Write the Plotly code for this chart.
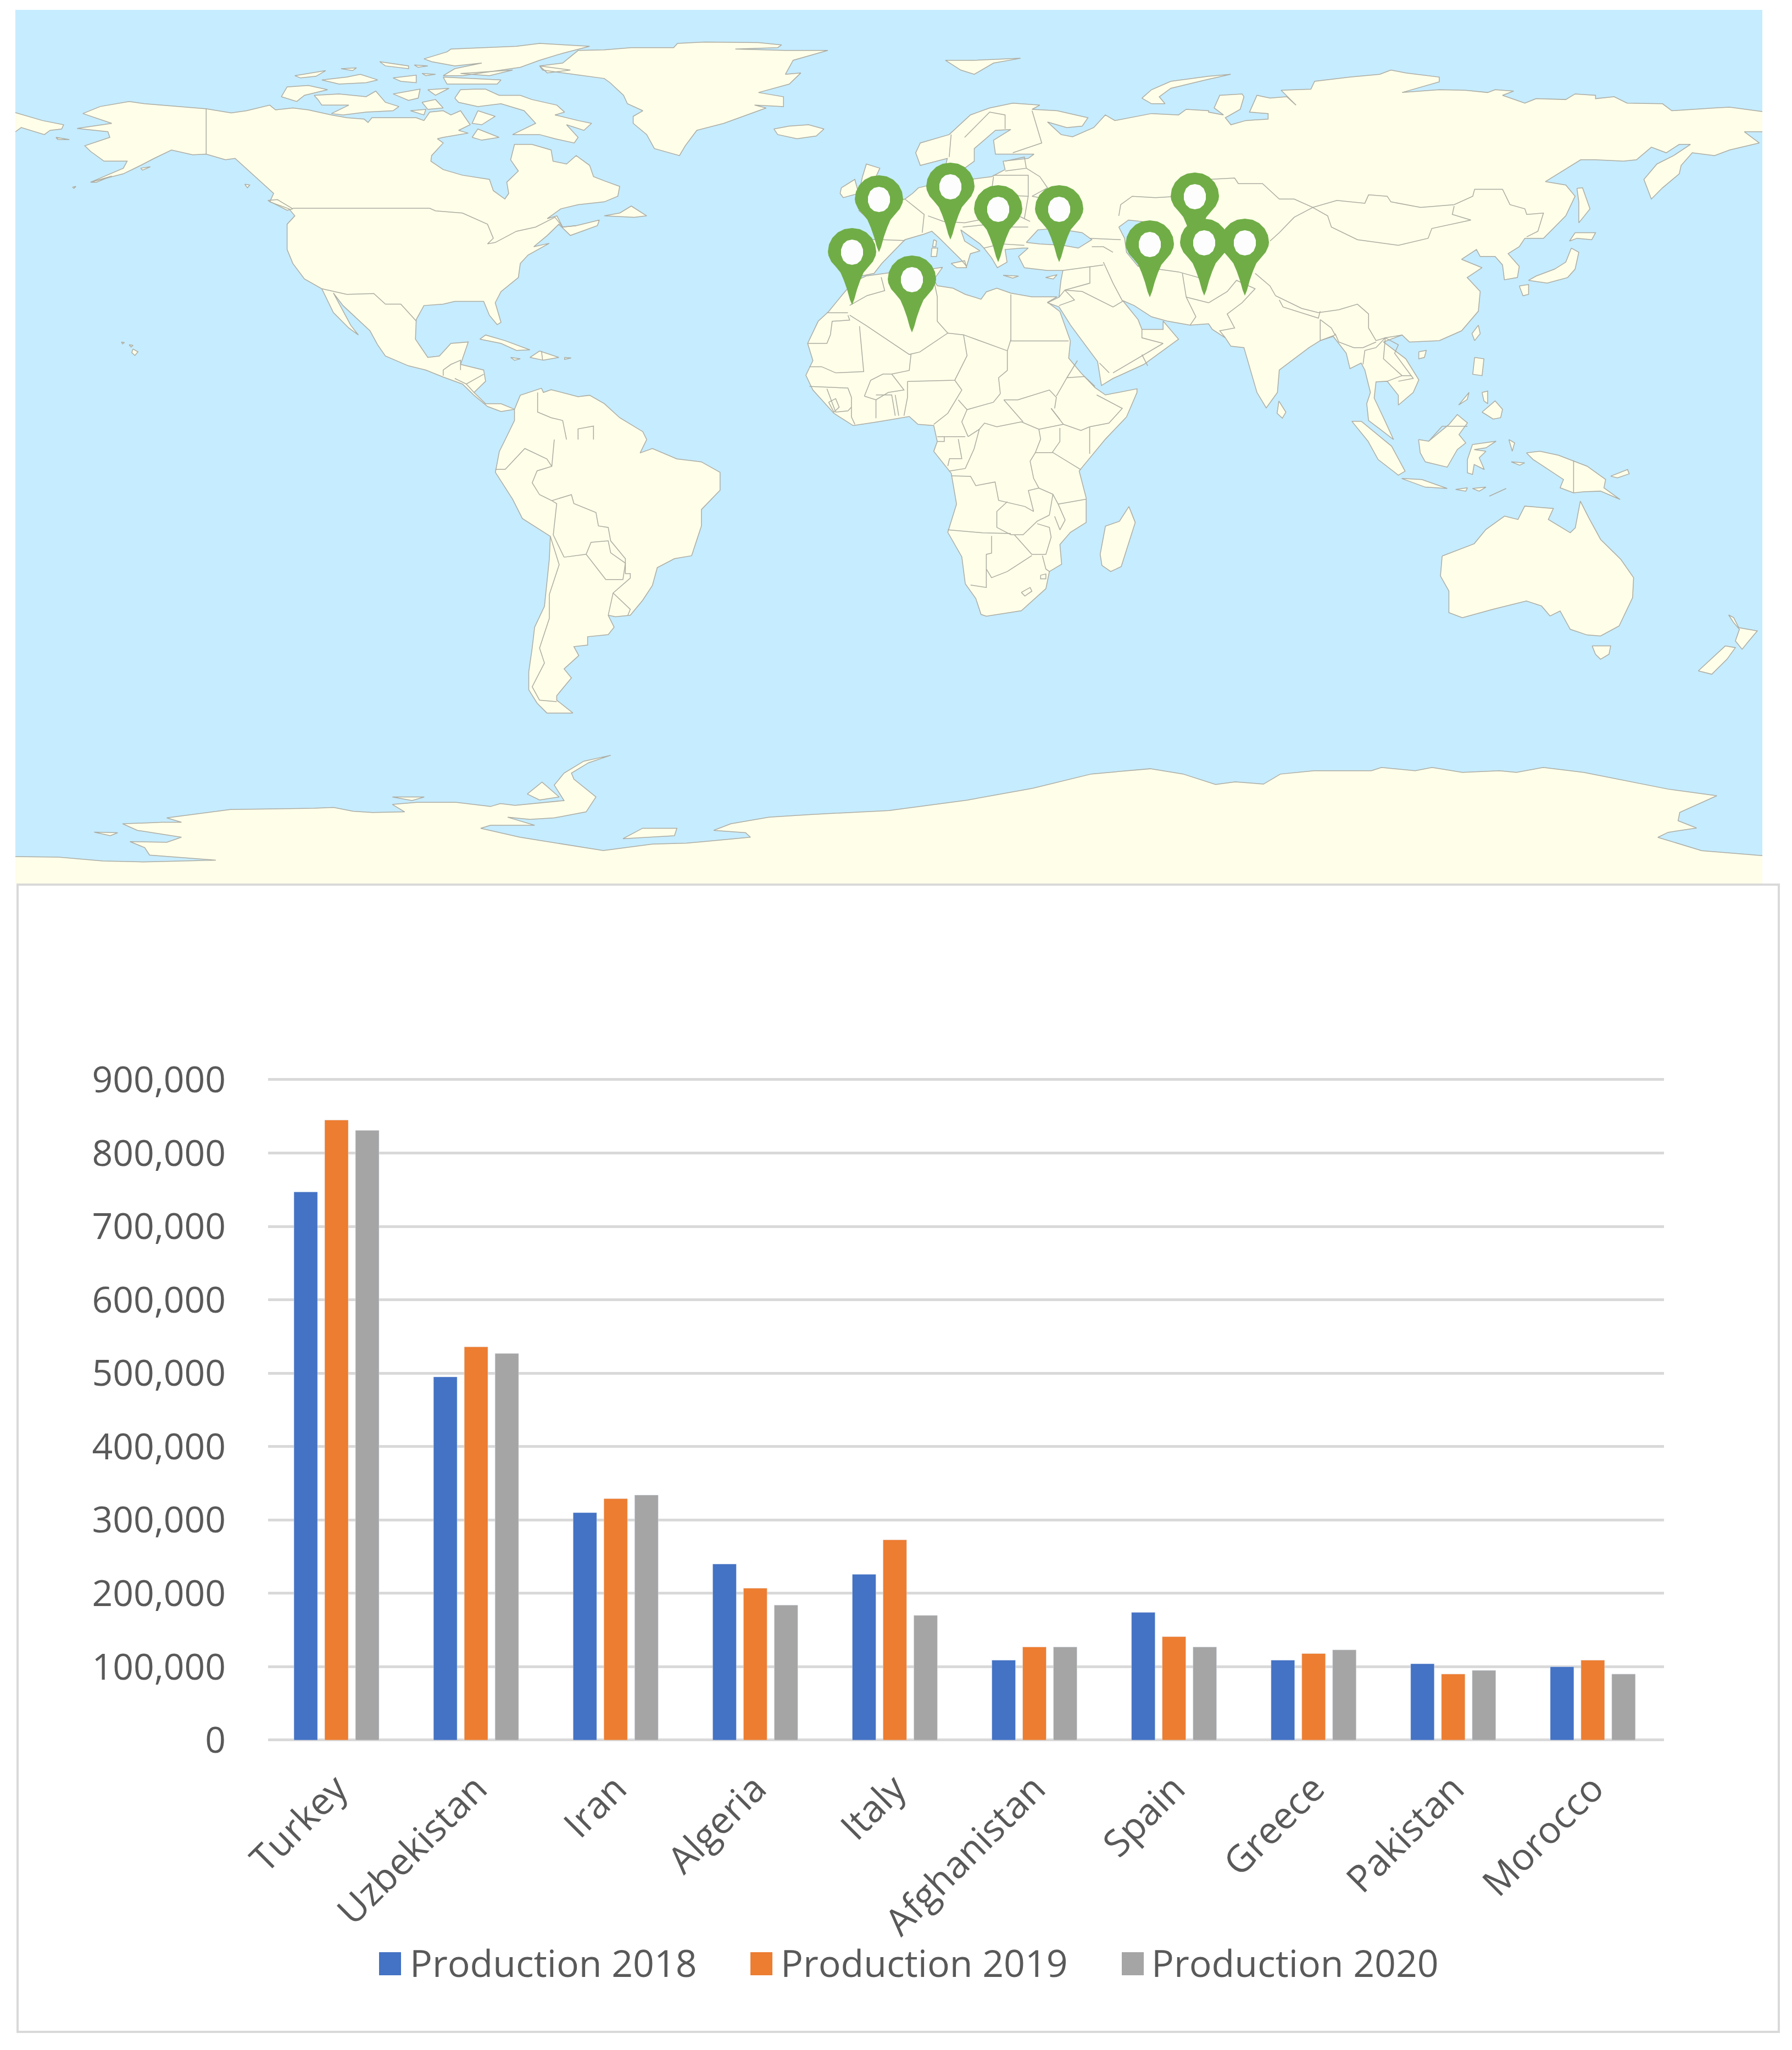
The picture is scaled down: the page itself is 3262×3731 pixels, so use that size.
import plotly.graph_objects as go

# Bar chart values
countries = ['Turkey', 'Uzbekistan', 'Iran', 'Algeria', 'Italy', 'Afghanistan', 'Spain', 'Greece', 'Pakistan', 'Morocco']
production_2018 = [747000, 495000, 310000, 240000, 226000, 109000, 174000, 109000, 104000, 100000]
production_2019 = [845000, 536000, 329000, 207000, 273000, 127000, 141000, 118000, 90000, 109000]
production_2020 = [831000, 527000, 334000, 184000, 170000, 127000, 127000, 123000, 95000, 90000]
y_ticks = [0, 100000, 200000, 300000, 400000, 500000, 600000, 700000, 800000, 900000]
series_names = ['Production 2018', 'Production 2019', 'Production 2020']
series_colors = ['#4472C4', '#ED7D31', '#A5A5A5']

# Pin tips on the map, in picture pixels
pin_countries = ['Spain', 'Morocco', 'Algeria', 'Italy', 'Greece', 'Turkey', 'Iran', 'Uzbekistan', 'Afghanistan', 'Pakistan']
pin_x = [1600, 1551, 1660, 1730, 1817, 1928, 2093, 2175, 2192, 2266]
pin_y = [459, 555, 605, 436, 477, 477, 541, 454, 538, 538]

# Coastlines. Each list is in the pixels of one crop, see crop() below.
alaska_to_panama = [(535,388),(600,403),(640,395),(700,375),(715,392),(760,385),(800,392),(860,410),(900,420),(945,425),(955,437),(965,420),(1020,420),(1080,420),(1100,430),(1115,400),(1150,395),(1170,410),(1195,395),(1210,425),(1220,445),(1190,465),(1215,475),(1150,490),(1135,495),(1150,510),(1120,555),(1118,575),(1150,605),(1200,625),(1270,640),(1280,680),(1310,710),(1320,690),(1315,650),(1345,610),(1325,570),(1335,515),(1380,515),(1430,535),(1435,575),(1470,585),(1495,555),(1530,590),(1540,630),(1568,645),(1608,665),(1603,700),(1568,720),(1500,730),(1455,745),(1420,780),(1445,770),(1460,810),(1495,805),(1555,785),(1550,805),(1480,840),(1450,800),(1420,840),(1385,880),(1425,868),(1370,910),(1350,940),(1345,990),(1300,1040),(1285,1080),(1300,1150),(1290,1158),(1270,1125),(1255,1075),(1180,1075),(1150,1085),(1100,1090),(1080,1140),(1078,1210),(1110,1275),(1140,1270),(1170,1225),(1215,1220),(1195,1300),(1255,1320),(1260,1360),(1230,1400),(1260,1440),(1300,1440),(1335,1460),(1300,1468),(1265,1450),(1230,1410),(1200,1370),(1150,1345),(1105,1320),(1060,1305),(1000,1270),(980,1230),(960,1180),(890,1090),(865,1045),(910,1160),(930,1195),(905,1170),(865,1115),(835,1030),(790,995),(760,940),(745,890),(745,800),(765,770),(750,745),(700,720),(710,690),(670,640),(610,565),(585,570),(535,550),(500,552),(445,535),(400,565),(365,590),(320,620),(235,650),(320,600),(330,575),(270,575),(235,540),(220,520),(285,490),(280,470),(200,458),(290,440),(215,405),(260,380),(335,362),(375,370),(450,378)]
banks = [(730,345),(745,310),(800,305),(850,320),(790,340),(770,362)]
victoria = [(815,340),(880,335),(950,345),(975,325),(1000,365),(1035,380),(1020,395),(950,400),(890,410),(860,405),(905,375),(835,375),(825,355)]
baffin = [(1180,350),(1195,320),(1230,318),(1260,318),(1295,340),(1350,340),(1380,355),(1445,375),(1465,400),(1440,410),(1500,430),(1535,440),(1515,465),(1470,445),(1500,490),(1490,510),(1440,495),(1400,480),(1330,480),(1390,440),(1360,395),(1300,370),(1240,380),(1190,365)]
southampton = [(1225,490),(1240,460),(1295,490),(1250,500)]
ellesmere = [(1100,210),(1160,185),(1170,175),(1340,165),(1400,155),(1530,165),(1460,190),(1400,215),(1350,240),(1200,270),(1150,270),(1180,245),(1250,225),(1180,235),(1120,220)]
devon = [(1150,275),(1300,285),(1290,300),(1160,300)]
arctic_small = [
    [(985,220),(1060,235),(1060,245),(1000,235)],
    [(765,270),(845,252),(820,272),(780,278)],
    [(835,285),(900,275),(935,265),(980,285),(950,295),(880,300)],
    [(1020,278),(1080,268),(1080,295),(1040,290)],
    [(1020,335),(1090,318),(1085,350),(1060,358)],
    [(1110,320),(1165,315),(1130,340)],
    [(1095,365),(1130,355),(1150,385),(1110,390)],
    [(1240,395),(1285,415),(1250,445),(1225,440)],
    [(1065,395),(1105,390),(1100,410)],
    [(885,245),(925,242),(915,252)],
    [(1075,232),(1110,235),(1085,240)],
    [(1095,262),(1130,265),(1105,270)],
    [(1195,262),(1330,250),(1270,270)],
    [(1400,235),(1480,250),(1420,260)],
]
na_islands = [
    [(1245,1210),(1260,1195),(1310,1215),(1375,1248),(1340,1250),(1300,1225)],
    [(1375,1275),(1400,1252),(1450,1275),(1410,1285)],
    [(1325,1275),(1350,1280),(1335,1285)],
    [(1465,1275),(1482,1277),(1465,1282)],
    [(345,1245),(358,1255),(350,1268),(342,1258)],
    [(335,1230),(345,1232),(340,1238)],
    [(315,1220),(323,1222),(318,1227)],
    [(0,395),(40,402),(110,430),(165,445),(160,460),(130,465),(115,480),(55,455),(40,470),(0,470)],
    [(145,490),(180,498),(150,498)],
    [(365,600),(390,595),(370,607)],
    [(235,650),(290,628),(250,650)],
    [(188,668),(197,665),(192,672)],
    [(695,715),(720,712),(760,745),(745,750)],
    [(635,657),(648,660),(642,670)],
    [(1608,760),(1638,735),(1678,770),(1646,775),(1568,770)],
]
greenland = [(-168,235),(-108,225),(-68,180),(0,178),(70,170),(180,170),(190,155),(260,150),(400,152),(460,160),(450,170),(340,175),(470,180),(580,180),(490,215),(470,265),(510,260),(480,300),(400,330),(465,345),(465,380),(390,375),(420,385),(310,440),(240,465),(210,520),(195,555),(130,530),(110,480),(75,440),(75,415),(100,395),(60,370),(50,340),(15,295),(0,280),(-80,265),(-160,250)]
iceland = [(440,460),(480,450),(530,445),(570,460),(550,485),(500,495),(450,480)]
svalbard = [(885,215),(960,215),(1080,208),(1010,225),(960,265),(925,250)]
novaya_zemlya = [(1395,350),(1420,320),(1470,290),(1568,272),(1625,265),(1560,285),(1470,315),(1440,345),(1455,370),(1420,370)]
europe_coast_north = [(665,985),(620,965),(625,880),(650,855),(720,855),(700,800),(660,750),(760,720),(780,710),(800,690),(815,670),(860,655),(875,610),(890,600),(885,645),(950,640),(1005,630),(1040,605),(1035,575),(1100,565),(1115,550),(1015,550),(1010,500),(1055,462),(1015,465),(960,530),(960,575),(930,605),(885,595),(890,565),(820,590),(808,545),(820,510),(895,480),(950,410),(1000,385),(1060,368),(1130,375),(1110,390),(1175,395),(1255,420),(1240,450),(1200,455),(1150,435),(1185,480),(1215,488),(1270,455),(1300,410),(1325,430),(1420,405),(1490,410),(1510,390),(1568,395)]
asia_coast = [(0,400),(40,410),(15,385),(30,340),(90,335),(95,345),(85,390),(45,420),(60,445),(100,430),(160,425),(160,405),(110,400),(130,340),(165,350),(210,345),(235,375),(195,322),(275,318),(285,290),(380,275),(460,265),(490,250),(530,260),(620,275),(620,292),(520,330),(620,320),(690,322),(750,330),(770,320),(820,325),(790,340),(850,368),(880,352),(960,355),(985,335),(1040,340),(1040,352),(1090,345),(1125,368),(1220,370),(1245,395),(1360,385),(1400,382),(1488,398),(1540,405),(1540,470),(1440,470),(1480,510),(1400,535),(1360,555),(1300,545),(1270,590),(1265,620),(1220,670),(1190,710),(1170,640),(1205,585),(1250,555),(1295,515),(1265,515),(1230,545),(1190,525),(1150,570),(1115,575),(1040,570),(1000,570),(905,648),(960,660),(985,700),(960,770),(900,850),(850,850),(835,880),(805,905),(835,950),(830,990),(795,998),(790,945),(770,915),(730,915),(720,890),(680,925),(735,955),(695,990),(730,1040),(725,1110),(680,1180),(620,1215),(540,1220),(520,1195),(470,1220),(530,1280),(565,1355),(550,1400),(510,1445),(510,1410),(480,1360),(450,1362),(445,1420),(470,1490),(497,1568),(460,1530),(430,1500),(425,1440),(435,1400),(420,1320),(410,1295),(380,1315),(370,1260),(335,1200),(300,1215),(270,1240),(190,1320),(185,1400),(155,1455),(130,1400),(95,1240),(60,1235),(45,1205),(10,1175),(0,1155)]
europe_coast_south = [(1568,1155),(1520,1160),(1460,1145),(1420,1130),(1375,1090),(1345,1072),(1385,1140),(1395,1175),(1450,1175),(1450,1145),(1490,1210),(1440,1260),(1400,1300),(1320,1350),(1290,1375),(1280,1290),(1210,1160),(1180,1095),(1150,1080),(1180,1060),(1185,1000),(1190,965),(1150,965),(1090,955),(1075,915),(1100,885),(1085,885),(1040,890),(1045,935),(1020,955),(1005,920),(985,885),(975,870),(925,820),(935,860),(975,895),(950,905),(940,950),(925,925),(870,850),(850,825),(830,835),(780,855),(720,940),(700,975)]
europe_islands = [
    [(670,630),(680,585),(715,600),(705,630),(770,690),(690,710),(660,690)],
    [(615,670),(650,640),(660,690),(620,705),(612,690)],
    [(900,940),(935,930),(940,955),(915,955)],
    [(850,885),(865,885),(862,915),(848,915)],
    [(855,855),(862,860),(860,880),(852,880)],
    [(1035,982),(1075,985),(1060,992)],
    [(1145,990),(1175,980),(1165,995)],
]
black_sea = [(1095,865),(1125,820),(1170,815),(1240,830),(1265,855),(1230,885),(1190,875),(1130,870)]
caspian = [(1335,810),(1360,785),(1395,790),(1400,880),(1385,950),(1355,900),(1350,850)]
africa_coast = [(277,5),(240,30),(210,80),(170,150),(140,190),(110,280),(125,350),(105,410),(125,470),(185,565),(240,615),(310,600),(400,578),(425,610),(470,615),(480,680),(470,720),(520,810),(535,935),(510,1050),(550,1150),(560,1260),(590,1320),(605,1385),(620,1392),(720,1370),(790,1280),(800,1210),(835,1180),(830,1100),(860,1050),(905,1010),(905,910),(885,800),(960,670),(1020,580),(1050,480),(1050,465),(960,490),(930,460),(890,400),(855,340),(860,270),(830,150),(795,112),(822,90),(750,90),(690,75),(650,55),(620,70),(605,100),(560,80),(525,55),(480,45),(470,20),(495,-30),(450,-20),(380,-15)]
madagascar = [(1027,945),(1045,1010),(1005,1190),(975,1210),(950,1185),(945,1140),(960,1025),(1000,1005)]
sri_lanka = [(1455,515),(1475,560),(1465,585),(1450,565)]
south_america_north = [(1311,1568),(1335,1500),(1335,1460),(1350,1410),(1405,1385),(1410,1400),(1430,1390),(1500,1415),(1530,1410),(1568,1440),(1608,1490),(1668,1540),(1678,1568)]
south_america_south = [(1305,45),(1330,30),(1380,65),(1430,75),(1468,110),(1468,170),(1430,235),(1430,290),(1410,390),(1375,400),(1340,430),(1330,490),(1310,540),(1285,590),(1255,595),(1240,590),(1252,630),(1240,655),(1198,662),(1198,690),(1170,695),(1180,725),(1150,770),(1165,800),(1135,860),(1135,875),(1168,918),(1115,918),(1095,885),(1078,840),(1078,780),(1085,700),(1090,630),(1110,560),(1120,400),(1122,325),(1065,265),(1045,200),(1010,110),(1018,40),(1030,0)]
antarctica_west = [(-10,1399),(32,1400),(120,1402),(210,1415),(290,1418),(440,1412),(305,1395),(295,1370),(265,1350),(340,1352),(370,1335),(280,1312),(250,1290),(330,1285),(370,1285),(340,1270),(470,1242),(640,1238),(680,1235),(720,1248),(760,1252),(825,1250),(800,1225),(850,1218),(930,1218),(1000,1232),(1020,1222),(1050,1228),(1150,1212),(1130,1160),(1150,1120),(1190,1080),(1245,1060),(1200,1085),(1165,1120),(1170,1140),(1215,1200),(1195,1250),(1130,1270),(1080,1275),(1035,1268),(1090,1295),(1000,1295),(980,1305),(1060,1335),(1230,1380),(1330,1358),(1400,1355),(1530,1335),(1520,1320),(1455,1312),(1490,1290),(1568,1268)]
antarctica_mid = [(620,623),(680,620),(740,612),(790,603),(835,592),(880,588),(905,592),(930,600),(945,598)]
antarctica_east = [(0,1200),(50,1170),(150,1160),(320,1160),(350,1150),(450,1160),(500,1150),(590,1165),(700,1160),(750,1165),(830,1150),(950,1165),(1100,1195),(1200,1215),(1345,1235),(1235,1285),(1230,1310),(1285,1332),(1200,1345),(1170,1360),(1300,1400),(1480,1415),(1540,1420),(1540,1560)]
antarctica_close = [(-10,1540)]
antarctic_islands = [
    [(192,1318),(240,1320),(225,1330)],
    [(1270,1340),(1310,1305),(1380,1305),(1375,1330)],
    [(1075,1190),(1105,1150),(1140,1200),(1100,1210)],
    [(800,1200),(865,1200),(840,1212)],
]
australia = [(530,515),(625,478),(660,435),(715,395),(755,405),(775,365),(860,372),(845,405),(910,445),(925,430),(940,350),(965,400),(1000,465),(1060,525),(1098,580),(1095,640),(1055,725),(1000,755),(960,752),(910,735),(880,680),(850,695),(825,665),(780,650),(680,675),(590,700),(550,685),(550,620),(525,575)]
oceania_islands = [
    [(975,785),(1030,785),(1025,810),(1000,825),(985,810)],
    [(1380,692),(1395,700),(1410,730),(1465,740),(1440,770),(1420,795),(1400,770),(1412,735),(1395,715)],
    [(1290,860),(1370,785),(1400,790),(1375,825),(1330,870)],
    [(780,205),(820,200),(875,212),(960,245),(1015,285),(1010,310),(1058,345),(1000,320),(950,322),(920,325),(880,310),(890,285),(830,245),(800,225)],
    [(460,165),(490,170),(550,120),(575,90),(605,115),(580,150),(600,175),(575,195),(545,248),(480,232),(465,205)],
    [(262,110),(290,110),(380,185),(420,260),(400,272),(340,225),(310,170)],
    [(410,282),(470,285),(545,312),(480,308)],
    [(620,180),(690,170),(660,190),(625,195),(660,200),(640,220),(655,255),(625,240),(620,270),(605,265),(605,225)],
    [(570,315),(605,310),(600,320)],
    [(620,312),(660,308),(640,320)],
    [(670,335),(720,312),(690,325)],
    [(1030,275),(1080,255),(1085,268),(1050,280)],
    [(735,232),(775,235),(760,242)],
    [(728,165),(745,175),(738,200)],
]
east_asia_islands = [
    [(715,1275),(740,1280),(735,1340),(710,1335)],
    [(735,1470),(770,1430),(790,1460),(785,1490),(765,1495)],
    [(672,1445),(700,1400),(695,1425)],
    [(735,1400),(750,1395),(750,1440),(740,1430)],
    [(975,885),(995,900),(985,960),(965,990),(910,1010),(860,1000),(880,985),(930,960),(960,935)],
    [(985,830),(1040,830),(1030,855),(990,850),(970,860)],
    [(990,672),(1005,670),(1025,745),(995,795),(995,720)],
    [(835,1020),(860,1015),(860,1050),(845,1055)],
    [(725,1160),(730,1190),(715,1215),(708,1190)],
    [(565,1255),(585,1250),(580,1275),(565,1280)],
]

# Country borders, same crops as the coastlines
borders_america = [
    [(535,388),(535,550)],
    [(760,743),(1115,743),(1130,752),(1200,760),(1265,800),(1280,850),(1265,870),(1285,865),(1340,825),(1390,810),(1440,775),(1460,810),(1495,805)],
    [(835,1030),(900,1050),(970,1047),(1000,1085),(1040,1085),(1080,1145)],
    [(1150,1340),(1150,1320),(1170,1300),(1195,1285),(1195,1320)],
    [(1180,1350),(1210,1370),(1255,1335)],
    [(1210,1370),(1230,1400)],
    [(1405,1252),(1408,1285)],
    [(1395,1400),(1395,1470),(1430,1490),(1460,1500),(1470,1568)],
    [(1500,1568),(1500,1530),(1540,1520),(1540,1568)],
]
borders_south_america = [
    [(1130,0),(1125,90),(1095,105),(1085,145),(1100,185),(1125,205),(1165,185),(1170,215),(1215,245),(1220,290),(1240,295),(1245,340),(1275,400),(1275,450),(1285,450),(1285,465),(1250,515),(1285,570),(1280,590)],
    [(1010,100),(1030,100),(1070,30),(1115,65),(1125,90)],
    [(1125,205),(1135,215),(1128,320),(1150,395)],
    [(1122,325),(1140,420),(1120,520),(1120,600),(1100,700),(1110,750),(1085,830),(1100,875),(1135,880)],
    [(1150,395),(1195,385),(1205,345),(1240,340),(1245,380),(1275,415),(1270,470),(1235,470),(1195,385)],
    [(1250,515),(1240,590)],
]
borders_africa = [
    [(320,10),(330,65),(280,85),(230,125)],
    [(165,155),(225,155)],
    [(225,165),(230,185),(180,190),(175,245),(165,280),(110,280)],
    [(230,165),(275,205),(400,325),(430,315),(510,238),(555,245),(565,330),(530,430),(395,435)],
    [(258,210),(270,395),(190,400),(175,390),(150,375),(115,375)],
    [(405,325),(400,390),(350,405),(325,405),(290,430),(272,495)],
    [(555,245),(680,310),(690,265)],
    [(690,80),(690,270),(855,270)],
    [(470,20),(480,90),(480,190),(510,238)],
    [(680,310),(680,390),(655,420),(660,485)],
    [(540,510),(565,550),(640,520),(660,485)],
    [(530,430),(550,470),(510,565),(470,610)],
    [(385,575),(395,500),(395,435)],
    [(565,550),(550,600),(568,660)],
    [(480,660),(560,660)],
    [(500,660),(500,680),(480,680)],
    [(540,670),(550,750),(515,750),(510,780)],
    [(568,660),(600,630),(585,710),(560,790),(515,800)],
    [(600,630),(615,605),(650,620),(720,600),(770,630)],
    [(670,510),(710,510),(800,470),(820,500),(815,545)],
    [(670,510),(725,600)],
    [(770,630),(840,610),(805,545)],
    [(820,495),(850,420),(900,415),(930,455)],
    [(880,350),(850,420)],
    [(840,610),(890,635),(915,620)],
    [(805,545),(830,590)],
    [(915,620),(970,605),(1008,545),(935,490)],
    [(915,620),(915,730)],
    [(830,625),(830,680),(808,725)],
    [(770,630),(775,670),(760,725),(745,760),(755,830),(770,870)],
    [(520,820),(575,822),(590,860),(645,845),(655,920),(730,945),(755,965),(740,880),(770,870),(810,895),(800,980)],
    [(760,725),(810,725),(890,795)],
    [(825,935),(905,915)],
    [(810,895),(825,935),(845,1000),(830,1040),(815,985)],
    [(510,1040),(610,1052),(690,1055)],
    [(680,925),(650,965),(650,1030),(690,1060)],
    [(690,1060),(725,1060),(765,1005),(800,980)],
    [(700,1060),(750,1140),(790,1140),(805,1070),(800,1030),(765,1015)],
    [(635,1065),(635,1135),(620,1140),(620,1275),(575,1265)],
    [(620,1200),(635,1235),(680,1210),(750,1145)],
    [(780,1145),(790,1200),(800,1210)],
    [(720,1295),(745,1275),(750,1290),(730,1310),(720,1295)],
    [(775,1225),(790,1220),(790,1240),(775,1240),(775,1225)],
    [(115,455),(225,462),(235,500),(235,580),(245,610)],
    [(305,510),(305,585)],
    [(305,490),(350,490),(360,575)],
    [(360,490),(370,575)],
    [(272,495),(305,510),(340,480),(385,470),(350,405)],
    [(165,465),(190,560),(225,555),(235,540)],
    [(170,520),(190,505),(200,540),(185,560),(170,520)],
]
borders_middle_east_europe = [
    [(1190,965),(1270,950),(1295,945)],
    [(1260,950),(1260,1010),(1195,1035)],
    [(1195,1035),(1240,1040),(1320,1095),(1345,1075)],
    [(1295,935),(1320,1010),(1345,1075)],
    [(1180,1060),(1195,1035),(1220,1070),(1180,1090)],
    [(1310,1330),(1285,1295)],
    [(1320,1330),(1400,1265),(1450,1225),(1395,1205),(1395,1175)],
    [(1395,1265),(1410,1305)],
    [(1500,975),(1510,1060),(1535,1130),(1520,1160)],
    [(1385,950),(1490,970),(1568,1000)],
    [(1510,1060),(1568,1080)],
    [(1335,770),(1340,730),(1370,700),(1430,705),(1490,700),(1568,640)],
    [(900,480),(895,560)],
    [(935,490),(1000,400),(1040,410),(1040,460)],
    [(1110,395),(1135,510),(1060,545)],
    [(1040,575),(1090,560),(1095,600),(1040,610)],
    [(1095,600),(1130,630),(1150,670),(1110,700),(1150,710),(1140,760),(1180,790)],
    [(1010,630),(1005,680),(1020,695),(1100,700),(1100,625),(1010,625)],
    [(1020,695),(1000,720),(1090,780),(1105,790)],
    [(1100,700),(1090,780)],
    [(780,710),(830,765),(825,830)],
    [(720,855),(780,858)],
    [(840,770),(880,790),(935,795),(990,780),(1010,720)],
    [(930,810),(1000,800),(1040,810),(1100,810)],
    [(1040,810),(1030,870),(1090,875)],
    [(985,885),(1030,870)],
    [(1260,850),(1340,855)],
    [(1265,880),(1295,880),(1320,900)],
]
borders_asia = [
    [(0,640),(70,635),(80,655),(145,655),(190,710),(230,710),(280,740),(345,715),(420,725),(430,695),(480,700),(490,720),(570,740),(660,730),(710,700),(715,675),(790,675),(810,730),(850,745),(855,765),(900,760),(885,825),(855,845)],
    [(660,735),(655,765),(705,785),(600,815),(590,850),(510,875),(400,855),(330,810),(320,770),(280,740)],
    [(280,740),(230,775),(190,830),(165,860)],
    [(0,1080),(50,1040),(75,1000),(125,1030),(90,1080),(50,1120),(70,1170),(30,1180),(45,1205)],
    [(125,975),(165,1020),(180,1055),(250,1100),(295,1115),(350,1105),(400,1085),(430,1120),(430,1170),(450,1215),(475,1205),(520,1195)],
    [(190,1070),(200,1095),(295,1135),(300,1110)],
    [(300,1140),(300,1215),(340,1195),(330,1170),(300,1140)],
    [(340,1190),(350,1220),(390,1240),(415,1240),(450,1220)],
    [(415,1300),(420,1250),(450,1240),(475,1205),(470,1280),(520,1340),(545,1340)],
    [(475,1205),(510,1230),(500,1260),(550,1350),(510,1360)],
    [(480,1360),(520,1340)],
]
borders_oceania = [
    [(920,228),(920,325)],
    [(490,170),(530,125),(605,125)],
]


def crop(points, left, top, width, height):
    # The crops were viewed stretched to 1568 x 1568
    return [(left + x * width / 1568, top + y * height / 1568) for x, y in points]


def z1(points):
    return crop(points, 0, 0, 1100, 800)


def z2(points):
    return crop(points, 1100, 0, 1100, 800)


def z3(points):
    return crop(points, 2200, 0, 1062, 800)


def z4(points):
    return crop(points, 0, 800, 1400, 850)


def z5(points):
    return crop(points, 1400, 500, 1000, 700)


def z6(points):
    return crop(points, 2300, 700, 962, 950)


def whole(points):
    return [(x * 3262 / 1371, y * 3731 / 1568) for x, y in points]


def join_paths(paths, close=True):
    xs, ys = [], []
    for path in paths:
        pts = list(path)
        if close:
            pts.append(pts[0])
        xs += [p[0] for p in pts] + [None]
        ys += [p[1] for p in pts] + [None]
    return xs, ys


land = [
    z1(alaska_to_panama), z1(banks), z1(victoria), z1(baffin), z1(southampton), z1(ellesmere), z1(devon),
    z2(greenland), z2(iceland), z2(svalbard), z2(novaya_zemlya),
    z2(europe_coast_north) + z3(asia_coast) + z2(europe_coast_south),
    z5(africa_coast), z5(madagascar), z5(sri_lanka),
    z1(south_america_north) + z4(south_america_south),
    z4(antarctica_west) + whole(antarctica_mid) + z6(antarctica_east) + z4(antarctica_close),
    z6(australia),
]
land += [z1(p) for p in arctic_small + na_islands]
land += [z2(p) for p in europe_islands]
land += [z4(p) for p in antarctic_islands]
land += [z6(p) for p in oceania_islands]
land += [z3(p) for p in east_asia_islands]
water = [z2(black_sea), z2(caspian)]
borders = [z1(p) for p in borders_america]
borders += [z4(p) for p in borders_south_america]
borders += [z5(p) for p in borders_africa]
borders += [z2(p) for p in borders_middle_east_europe]
borders += [z3(p) for p in borders_asia]
borders += [z6(p) for p in borders_oceania]

W, H = 3262, 3731
MAP_BOX = (28, 18, 3208, 1608)
PLOT_LEFT, PLOT_RIGHT, PLOT_BOTTOM = 488, 3029, 3167
# plotly drops a gridline sitting on the end of the range, so the axis runs a little past 900,000
Y_MAX = 902000
PLOT_TOP = PLOT_BOTTOM - (PLOT_BOTTOM - 1965) * Y_MAX / 900000
TEXT_COLOR = '#595959'
LAND_COLOR = '#FEFEE9'
OCEAN_COLOR = '#C6ECFF'
COAST_COLOR = '#ACACA2'
FONT = 'Open Sans'

fig = go.Figure()

for name, values, color in zip(series_names, [production_2018, production_2019, production_2020], series_colors):
    fig.add_trace(go.Bar(x=countries, y=values, name=name, marker_color=color, showlegend=False))

lx, ly = join_paths(land)
fig.add_trace(go.Scatter(x=lx, y=ly, xaxis='x2', yaxis='y2', mode='lines', fill='toself', fillcolor=LAND_COLOR,
                         line=dict(color=COAST_COLOR, width=1.5), hoverinfo='skip', showlegend=False))
wx, wy = join_paths(water)
fig.add_trace(go.Scatter(x=wx, y=wy, xaxis='x2', yaxis='y2', mode='lines', fill='toself', fillcolor=OCEAN_COLOR,
                         line=dict(color=COAST_COLOR, width=1.5), hoverinfo='skip', showlegend=False))
bx, by = join_paths(borders, close=False)
fig.add_trace(go.Scatter(x=bx, y=by, xaxis='x2', yaxis='y2', mode='lines',
                         line=dict(color=COAST_COLOR, width=1.5), hoverinfo='skip', showlegend=False))

# Pin glyph, relative to its tip: a round head narrowing to a point
pin_right = [(0, 0), (4, -10), (9, -28), (15, -45), (21, -59), (30, -70), (38, -79), (43, -90), (44, -97), (42, -110), (36, -122), (26, -132), (14, -138), (0, -140)]
pin_outline = pin_right + [(-x, y) for x, y in reversed(pin_right[1:-1])]
pin_hole_right = [(0, -119), (9, -117), (16, -111), (20, -101), (20, -91), (16, -81), (9, -75), (0, -73)]
pin_hole = pin_hole_right + [(-x, y) for x, y in reversed(pin_hole_right[1:-1])]

for glyph, color in [(pin_outline, '#70AD47'), (pin_hole, '#FDFDFD')]:
    paths = [[(tx + dx, ty + dy) for dx, dy in glyph] for tx, ty in zip(pin_x, pin_y)]
    px_, py_ = join_paths(paths)
    fig.add_trace(go.Scatter(x=px_, y=py_, xaxis='x2', yaxis='y2', mode='lines', fill='toself', fillcolor=color,
                             line=dict(color=color, width=0), hoverinfo='skip', showlegend=False))

shapes = [
    dict(type='rect', xref='paper', yref='paper', x0=MAP_BOX[0] / W, x1=MAP_BOX[2] / W, y0=1 - MAP_BOX[3] / H, y1=1 - MAP_BOX[1] / H,
         fillcolor=OCEAN_COLOR, line_width=0, layer='below'),
    dict(type='rect', xref='paper', yref='paper', x0=32 / W, x1=3238 / W, y0=1 - 3698 / H, y1=1 - 1610 / H,
         fillcolor='rgba(0,0,0,0)', line=dict(color='#D9D9D9', width=4), layer='below'),
]

# Legend is drawn by hand, plotly caps the size of its swatches
legend_swatch_x = [690, 1366, 2042]
legend_text_x = [744, 1419, 2094]
annotations = []
for name, color, sx, tx in zip(series_names, series_colors, legend_swatch_x, legend_text_x):
    shapes.append(dict(type='rect', xref='paper', yref='paper', x0=sx / W, x1=(sx + 40) / W, y0=1 - 3595 / H, y1=1 - 3553 / H,
                       fillcolor=color, line_width=0))
    annotations.append(dict(text=name, xref='paper', yref='paper', x=tx / W, y=1 - 3571 / H, xanchor='left', yanchor='middle',
                            showarrow=False, font=dict(family=FONT, size=68, color=TEXT_COLOR)))

fig.update_layout(
    width=W,
    height=H,
    margin=dict(l=0, r=0, t=0, b=0, autoexpand=False),
    paper_bgcolor='white',
    plot_bgcolor='rgba(0,0,0,0)',
    barmode='group',
    bargap=0.339,
    bargroupgap=0.232,
    shapes=shapes,
    annotations=annotations,
    font=dict(family=FONT, color=TEXT_COLOR),
    xaxis=dict(domain=[PLOT_LEFT / W, PLOT_RIGHT / W], range=[-0.49, 9.51], tickangle=-45, showgrid=False, automargin=False,
               tickfont=dict(family=FONT, size=68, color=TEXT_COLOR), ticks='outside', ticklen=20, tickcolor='rgba(0,0,0,0)',
               showline=False, zeroline=False, fixedrange=True),
    yaxis=dict(domain=[1 - PLOT_BOTTOM / H, 1 - PLOT_TOP / H], range=[0, Y_MAX], tickvals=y_ticks, tickformat=',', automargin=False,
               tickfont=dict(family=FONT, size=66, color=TEXT_COLOR), ticklabelstandoff=76, gridcolor='#D9D9D9', gridwidth=5,
               zeroline=True, zerolinecolor='#D9D9D9', zerolinewidth=5, showline=False, fixedrange=True),
    xaxis2=dict(domain=[MAP_BOX[0] / W, MAP_BOX[2] / W], range=[MAP_BOX[0], MAP_BOX[2]], visible=False, anchor='y2', fixedrange=True, automargin=False),
    yaxis2=dict(domain=[1 - MAP_BOX[3] / H, 1 - MAP_BOX[1] / H], range=[MAP_BOX[3], MAP_BOX[1]], visible=False, anchor='x2', fixedrange=True, automargin=False),
)

fig.write_html("out.html", config=dict(displayModeBar=False), post_script="document.body.style.margin='0';document.body.style.overflow='hidden';")
